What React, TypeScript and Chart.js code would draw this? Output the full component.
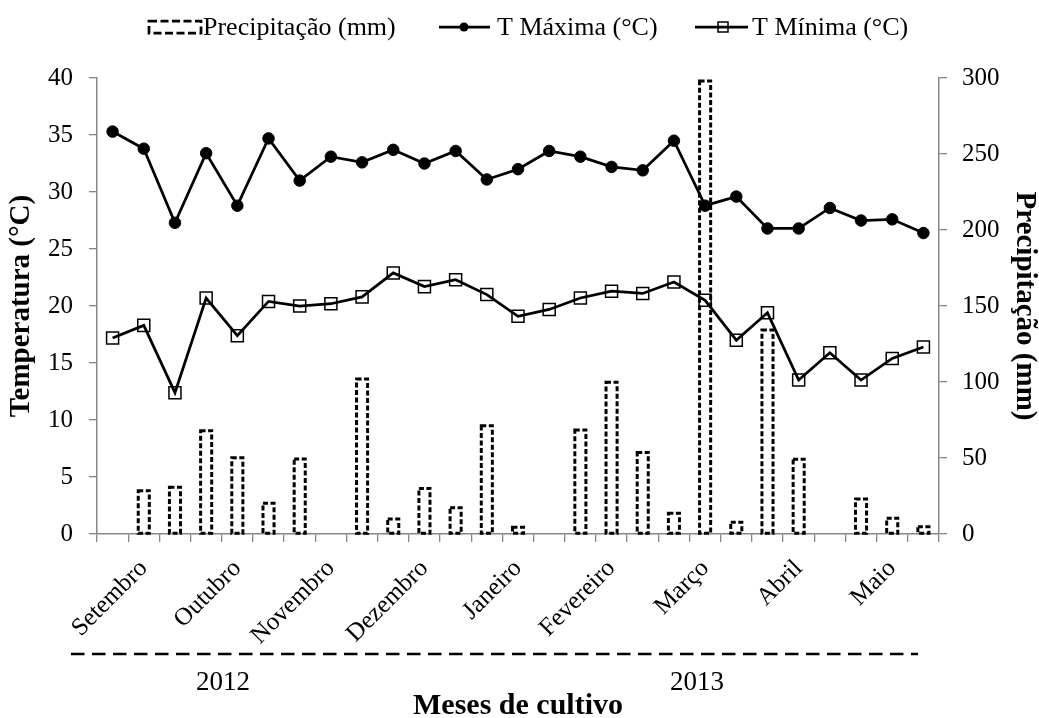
import React, { useEffect, useRef } from 'react';
import { Chart, registerables } from 'chart.js';

Chart.register(...registerables);

// ---------- data ----------
const categories = [
  '', 'Setembro', '', '', 'Outubro', '', '', 'Novembro', '', '',
  'Dezembro', '', '', 'Janeiro', '', '', 'Fevereiro', '', '',
  'Março', '', '', 'Abril', '', '', 'Maio', '',
];

const precipitation = [
  0, 28.5, 30.7, 68.0, 50.2, 20.2, 49.3, 0, 102.0, 9.9,
  30.0, 17.3, 71.2, 4.4, 0, 68.4, 99.8, 53.7, 13.6, 298.0,
  7.7, 134.2, 49.1, 0, 23.0, 10.3, 4.8,
];

const tMax = [
  35.3, 33.8, 27.3, 33.4, 28.8, 34.7, 31.0, 33.1, 32.6, 33.7,
  32.5, 33.6, 31.1, 32.0, 33.6, 33.1, 32.2, 31.9, 34.5, 28.8,
  29.6, 26.8, 26.8, 28.6, 27.5, 27.6, 26.4,
];

const tMin = [
  17.2, 18.3, 12.4, 20.7, 17.4, 20.4, 20.0, 20.2, 20.8, 22.9,
  21.7, 22.3, 21.0, 19.1, 19.7, 20.7, 21.3, 21.1, 22.1, 20.5,
  17.0, 19.4, 13.5, 15.9, 13.5, 15.4, 16.4,
];

const years = ['2012', '2013'];
const yearCenters = [3.54, 18.74];

const legendLabels = ['Precipitação (mm)', 'T Máxima (°C)', 'T Mínima (°C)'];
const axisTitles = { x: 'Meses de cultivo', y: 'Temperatura (°C)', y2: 'Precipitação (mm)' };

// ---------- styles ----------
const FONT = '"Liberation Serif", "Times New Roman", Times, serif';
const GRAY = '#868686';

const dashedBars = {
  id: 'dashedBars',
  afterDatasetDraw(chart: any, args: any) {
    if (args.index !== 0) return;
    const ctx = chart.ctx;
    ctx.save();
    ctx.strokeStyle = '#000';
    ctx.lineWidth = 3;
    ctx.setLineDash([5, 2.5]);
    args.meta.data.forEach((bar: any, i: number) => {
      const v = precipitation[i];
      if (!v) return;
      const { x, y, base, width } = bar.getProps(['x', 'y', 'base', 'width'], true);
      ctx.strokeRect(x - width / 2, y, width, base - y);
    });
    ctx.restore();
  },
};

const decorations = {
  id: 'decorations',
  afterDraw(chart: any) {
    const ctx = chart.ctx;
    ctx.save();
    ctx.fillStyle = '#000';
    ctx.strokeStyle = '#000';
    ctx.textAlign = 'left';
    ctx.textBaseline = 'alphabetic';
    ctx.font = `26px ${FONT}`;
    const ly = 27;

    // legend item 1: dashed box
    ctx.lineWidth = 2.75;
    ctx.setLineDash([8, 3.5]);
    ctx.strokeRect(149, 21, 52, 12);
    ctx.setLineDash([]);
    ctx.fillText(legendLabels[0], 203, 35);

    // legend item 2: line + filled circle
    ctx.lineWidth = 2.75;
    ctx.beginPath();
    ctx.moveTo(439, ly);
    ctx.lineTo(490, ly);
    ctx.stroke();
    ctx.beginPath();
    ctx.arc(464, ly, 4.5, 0, Math.PI * 2);
    ctx.fill();
    ctx.fillText(legendLabels[1], 497, 35);

    // legend item 3: line + open square
    ctx.beginPath();
    ctx.moveTo(695, ly);
    ctx.lineTo(748, ly);
    ctx.stroke();
    ctx.lineWidth = 1.5;
    ctx.strokeRect(718, ly - 5, 10, 10);
    ctx.fillText(legendLabels[2], 752, 35);

    // year row
    ctx.lineWidth = 2.5;
    ctx.setLineDash([13.5, 7.5]);
    ctx.beginPath();
    ctx.moveTo(71, 654);
    ctx.lineTo(918, 654);
    ctx.stroke();
    ctx.setLineDash([]);
    ctx.font = `27px ${FONT}`;
    ctx.textAlign = 'center';
    const xs = chart.scales.x;
    years.forEach((yr, i) => {
      ctx.fillText(yr, xs.getPixelForValue(yearCenters[i]), 690);
    });
    ctx.restore();
  },
};

export default function App() {
  const canvasRef = useRef<HTMLCanvasElement | null>(null);

  useEffect(() => {
    const canvas = canvasRef.current;
    if (!canvas) return;
    const tickFont = { family: FONT, size: 25 };
    const titleFont = { family: FONT, size: 29, weight: 'bold' as const, lineHeight: 1 };
    const xTitleFont = { family: FONT, size: 30, weight: 'bold' as const, lineHeight: 0.8 };

    const chart = new Chart(canvas, {
      type: 'bar',
      data: {
        labels: categories,
        datasets: [
          {
            type: 'bar',
            label: legendLabels[0],
            data: precipitation,
            yAxisID: 'y2',
            backgroundColor: 'rgba(0,0,0,0)',
            borderWidth: 0,
            barPercentage: 0.355,
            categoryPercentage: 1,
            order: 3,
          } as any,
          {
            type: 'line',
            label: legendLabels[1],
            data: tMax,
            yAxisID: 'y',
            borderColor: '#000',
            borderWidth: 2.75,
            pointStyle: 'circle',
            pointRadius: 5.75,
            pointBackgroundColor: '#000',
            pointBorderColor: '#000',
            pointBorderWidth: 1,
            tension: 0,
            order: 1,
          } as any,
          {
            type: 'line',
            label: legendLabels[2],
            data: tMin,
            yAxisID: 'y',
            borderColor: '#000',
            borderWidth: 2.75,
            pointStyle: 'rect',
            pointRadius: 8.5,
            pointBackgroundColor: 'rgba(0,0,0,0)',
            pointBorderColor: '#000',
            pointBorderWidth: 1.5,
            tension: 0,
            order: 2,
          } as any,
        ],
      },
      options: {
        responsive: false,
        animation: false,
        layout: { padding: { top: 78, left: 0, right: 0, bottom: 0 } },
        plugins: {
          legend: { display: false },
          tooltip: { enabled: false },
        },
        scales: {
          x: {
            offset: true,
            grid: { offset: true, drawOnChartArea: false, drawTicks: true, tickLength: 8, color: GRAY, lineWidth: 1.3 },
            border: { display: true, color: GRAY, width: 1.5 },
            ticks: {
              autoSkip: false,
              maxRotation: 45,
              minRotation: 45,
              padding: 12,
              color: '#000',
              font: { family: FONT, size: 25 },
            },
            title: {
              display: true,
              text: axisTitles.x,
              color: '#000',
              font: xTitleFont,
              padding: { top: 0, bottom: 0 },
            },
            afterFit: (s: any) => { s.height = 184; },
          },
          y: {
            position: 'left',
            min: 0,
            max: 40,
            ticks: { stepSize: 5, padding: 16, color: '#000', font: tickFont },
            grid: { drawOnChartArea: false, tickLength: 8, color: GRAY, lineWidth: 1.3 },
            border: { display: true, color: GRAY, width: 1.5 },
            title: {
              display: true,
              text: axisTitles.y,
              color: '#000',
              font: titleFont,
              padding: { top: 7.5, bottom: 0 },
            },
            afterFit: (s: any) => { s.width = 97; },
          },
          y2: {
            position: 'right',
            min: 0,
            max: 300,
            ticks: { stepSize: 50, padding: 15, color: '#000', font: tickFont },
            grid: { drawOnChartArea: false, tickLength: 8, color: GRAY, lineWidth: 1.3 },
            border: { display: true, color: GRAY, width: 1.5 },
            title: {
              display: true,
              text: axisTitles.y2,
              color: '#000',
              font: titleFont,
              padding: { top: 0, bottom: 0 },
            },
            afterFit: (s: any) => { s.width = 100; },
          },
        },
      } as any,
      plugins: [dashedBars, decorations],
    });

    return () => chart.destroy();
  }, []);

  return (
    <div style={{ position: 'absolute', left: 0, top: 0, width: 1039, height: 718, background: '#fff' }}>
      <canvas ref={canvasRef} width={1039} height={718} style={{ display: 'block' }} />
    </div>
  );
}
